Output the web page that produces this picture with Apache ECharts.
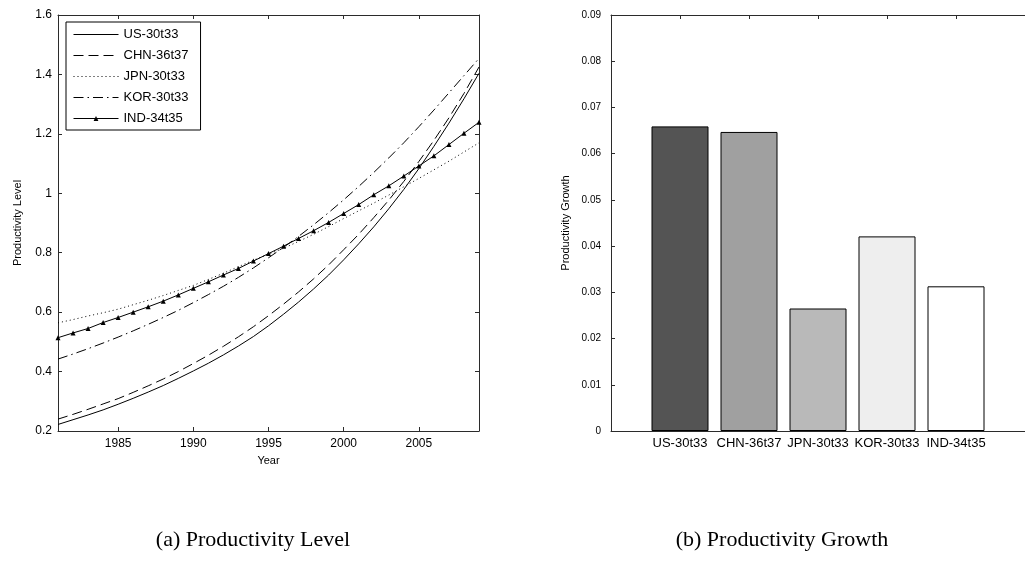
<!DOCTYPE html>
<html>
<head>
<meta charset="utf-8">
<script src="https://cdn.jsdelivr.net/npm/echarts@6/dist/echarts.min.js"></script>
<style>
  html, body { margin: 0; padding: 0; background: #fff; }
  #chart { width: 1025px; height: 563px; }
</style>
</head>
<body>
<div id="chart"></div>
<script>
// (a) productivity level, 1981-2009
const years = [1981, 1982, 1983, 1984, 1985, 1986, 1987, 1988, 1989, 1990,
  1991, 1992, 1993, 1994, 1995, 1996, 1997, 1998, 1999, 2000,
  2001, 2002, 2003, 2004, 2005, 2006, 2007, 2008, 2009];
const yearTicks = [1985, 1990, 1995, 2000, 2005];

const us = [0.222, 0.238, 0.254, 0.271, 0.290, 0.310, 0.331, 0.353, 0.377, 0.402,
  0.428, 0.456, 0.486, 0.518, 0.554, 0.593, 0.634, 0.678, 0.725, 0.776,
  0.830, 0.887, 0.948, 1.013, 1.083, 1.158, 1.236, 1.318, 1.404];
const chn = [0.240, 0.256, 0.273, 0.291, 0.309, 0.330, 0.352, 0.375, 0.400, 0.427,
  0.455, 0.485, 0.517, 0.551, 0.588, 0.627, 0.668, 0.712, 0.759, 0.810,
  0.862, 0.918, 0.977, 1.040, 1.107, 1.178, 1.254, 1.336, 1.425];
const jpn = [0.564, 0.575, 0.587, 0.598, 0.610, 0.625, 0.640, 0.656, 0.673, 0.690,
  0.710, 0.731, 0.753, 0.775, 0.795, 0.815, 0.838, 0.862, 0.888, 0.915,
  0.941, 0.967, 0.994, 1.022, 1.050, 1.079, 1.108, 1.139, 1.170];
const kor = [0.442, 0.459, 0.477, 0.496, 0.516, 0.537, 0.559, 0.582, 0.606, 0.632,
  0.659, 0.687, 0.717, 0.749, 0.783, 0.818, 0.855, 0.894, 0.935, 0.978,
  1.023, 1.070, 1.119, 1.170, 1.224, 1.280, 1.338, 1.396, 1.454];
const ind = [0.514, 0.530, 0.545, 0.565, 0.582, 0.600, 0.618, 0.637, 0.658, 0.680,
  0.702, 0.725, 0.747, 0.772, 0.797, 0.822, 0.848, 0.874, 0.902, 0.932,
  0.962, 0.995, 1.025, 1.058, 1.092, 1.126, 1.164, 1.202, 1.239];

// (b) productivity growth
const sectors = ['US-30t33', 'CHN-36t37', 'JPN-30t33', 'KOR-30t33', 'IND-34t35'];
const growth = [0.0659, 0.0647, 0.0265, 0.0421, 0.0313];
const barColors = ['#545454', '#a0a0a0', '#b9b9b9', '#eeeeee', '#ffffff'];

const font = 'Liberation Sans, Arial, sans-serif';
const axisColor = '#2b2b2b';

const chart = echarts.init(document.getElementById('chart'));

const pairs = vals => years.map((y, i) => [y, vals[i]]);

const lineSeries = (name, vals, type, extra) => Object.assign({
  name: name,
  type: 'line',
  xAxisIndex: 0,
  yAxisIndex: 0,
  data: pairs(vals),
  symbol: 'none',
  lineStyle: { color: '#000', width: 1, type: type },
  itemStyle: { color: '#000' },
  silent: true
}, extra || {});

const tickStyle = (values) => ({
  show: true, inside: true, length: 4,
  lineStyle: { color: axisColor },
  customValues: values
});

const baseAxis = {
  axisLine: { show: true, onZero: false, lineStyle: { color: axisColor, width: 1 } },
  splitLine: { show: false },
  nameTextStyle: { color: '#000', fontSize: 11, fontFamily: font }
};

// legend entries: only IND shows its marker
const legendItems = sectors.map((name, i) => i === 4 ? { name: name } : { name: name, itemStyle: { opacity: 0 } });

chart.setOption({
  animation: false,
  textStyle: { fontFamily: font },
  grid: [
    { left: 58, top: 15, width: 421, height: 416 },
    { left: 611, top: 15, width: 421, height: 416 }
  ],
  legend: {
    data: legendItems,
    orient: 'vertical',
    left: 66,
    top: 22,
    itemWidth: 45,
    itemHeight: 6,
    itemGap: 8,
    padding: [6, 12, 5, 7],
    borderColor: '#000',
    borderWidth: 1,
    borderRadius: 0,
    backgroundColor: '#fff',
    selectedMode: false,
    lineStyle: { width: 1 },
    textStyle: { color: '#000', fontSize: 13, fontFamily: font }
  },
  xAxis: [
    Object.assign({}, baseAxis, {
      type: 'value', gridIndex: 0, min: 1981, max: 2009,
      axisTick: tickStyle(yearTicks),
      axisLabel: { customValues: yearTicks, formatter: v => String(v), color: '#000', fontSize: 12, margin: 7 },
      name: 'Year', nameLocation: 'middle', nameGap: 24
    }),
    Object.assign({}, baseAxis, {
      type: 'value', gridIndex: 0, min: 1981, max: 2009, position: 'top',
      axisTick: tickStyle(yearTicks),
      axisLabel: { show: false }
    }),
    Object.assign({}, baseAxis, {
      type: 'value', gridIndex: 1, min: 0, max: 6, interval: 1,
      axisTick: tickStyle([1, 2, 3, 4, 5]),
      axisLabel: {
        customValues: [1, 2, 3, 4, 5],
        formatter: v => sectors[v - 1] || '',
        color: '#000', fontSize: 13, margin: 6
      }
    }),
    Object.assign({}, baseAxis, {
      type: 'value', gridIndex: 1, min: 0, max: 6, position: 'top',
      axisTick: tickStyle([1, 2, 3, 4, 5]),
      axisLabel: { show: false }
    })
  ],
  yAxis: [
    Object.assign({}, baseAxis, {
      type: 'value', gridIndex: 0, min: 0.2, max: 1.6, interval: 0.2,
      axisTick: { show: true, inside: true, length: 4, lineStyle: { color: axisColor } },
      axisLabel: { color: '#000', fontSize: 12, margin: 6 },
      name: 'Productivity Level', nameLocation: 'middle', nameGap: 35
    }),
    Object.assign({}, baseAxis, {
      type: 'value', gridIndex: 0, min: 0.2, max: 1.6, interval: 0.2, position: 'right',
      axisTick: { show: true, inside: true, length: 4, lineStyle: { color: axisColor } },
      axisLabel: { show: false }
    }),
    Object.assign({}, baseAxis, {
      type: 'value', gridIndex: 1, min: 0, max: 0.09, interval: 0.01,
      axisTick: { show: true, inside: true, length: 4, lineStyle: { color: axisColor } },
      axisLabel: { color: '#000', fontSize: 10, margin: 10 },
      name: 'Productivity Growth', nameLocation: 'middle', nameGap: 40
    })
  ],
  series: [
    lineSeries('US-30t33', us, 'solid'),
    lineSeries('CHN-36t37', chn, [10, 5]),
    lineSeries('JPN-30t33', jpn, [1, 3]),
    lineSeries('KOR-30t33', kor, [10, 4, 1.5, 4]),
    lineSeries('IND-34t35', ind, 'solid', { symbol: 'triangle', symbolSize: 5, showSymbol: true }),
    {
      name: 'growth',
      type: 'bar',
      xAxisIndex: 2,
      yAxisIndex: 2,
      barWidth: 57,
      silent: true,
      data: growth.map((v, i) => ({ value: [i + 1, v], itemStyle: { color: barColors[i] } })),
      itemStyle: { borderColor: '#000', borderWidth: 1 }
    }
  ],
  graphic: [
    {
      type: 'text', x: 253, y: 540,
      style: { text: '(a) Productivity Level', fill: '#000', align: 'center', verticalAlign: 'middle',
        font: '22px "Liberation Serif", "Times New Roman", serif' }
    },
    {
      type: 'text', x: 782, y: 540,
      style: { text: '(b) Productivity Growth', fill: '#000', align: 'center', verticalAlign: 'middle',
        font: '22px "Liberation Serif", "Times New Roman", serif' }
    }
  ]
});
</script>
</body>
</html>
